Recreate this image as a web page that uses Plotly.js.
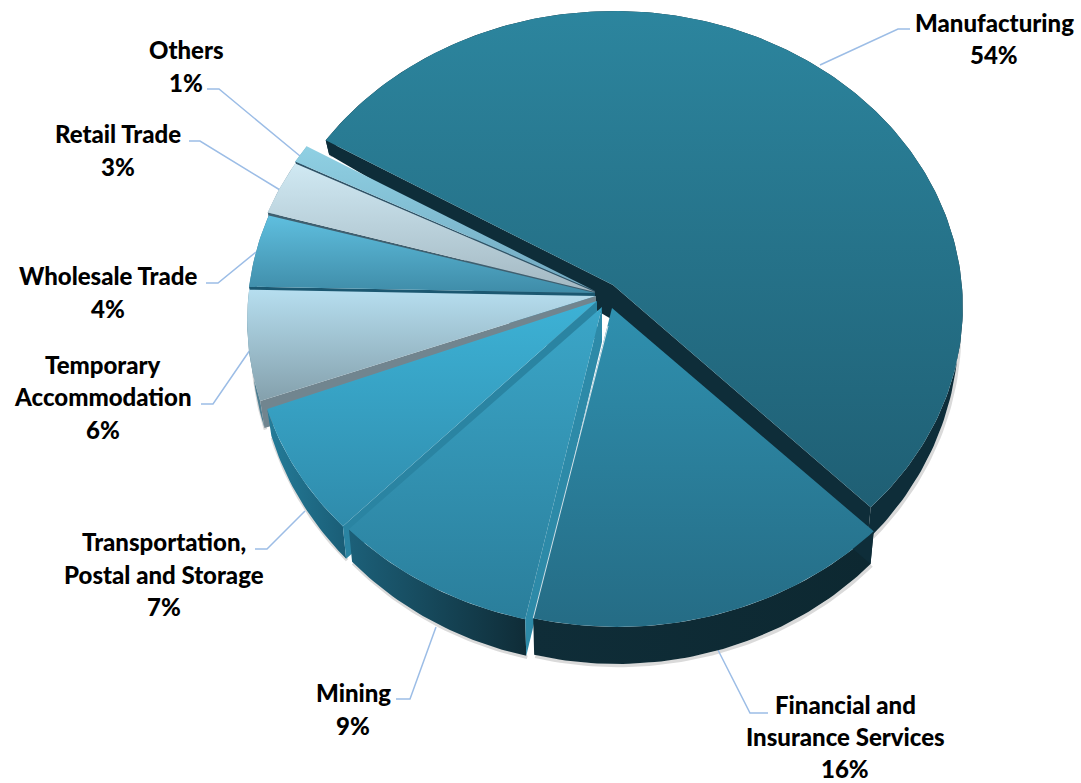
<!DOCTYPE html>
<html>
<head>
<meta charset="utf-8">
<script src="https://cdn.plot.ly/plotly-3.0.1.min.js"></script>
<style>html,body{margin:0;padding:0;background:#fff}#chart{width:1081px;height:783px}</style>
</head>
<body>
<div id="chart"></div>
<script>
// Share of output by industry, clockwise from Manufacturing
const categories = ['Manufacturing', 'Financial and Insurance Services', 'Mining',
  'Transportation, Postal and Storage', 'Temporary Accommodation',
  'Wholesale Trade', 'Retail Trade', 'Others'];
const shares = [54, 16, 9, 7, 6, 4, 3, 1];
const labelLines = [['Manufacturing'], ['Financial and', 'Insurance Services'], ['Mining'],
  ['Transportation,', 'Postal and Storage'], ['Temporary', 'Accommodation'],
  ['Wholesale Trade'], ['Retail Trade'], ['Others']];

// Top-face gradient (lower colour, upper colour) for each slice
const topColors = [['#1f5f74', '#2c859e'], ['#256c85', '#2f90af'], ['#2a7e9b', '#3ba6c8'],
  ['#2f8bab', '#3db2d6'], ['#84a0ac', '#b6deef'], ['#3f8ca8', '#5fbfdf'],
  ['#a3b8c2', '#d0e9f3'], ['#72a9c1', '#8fd0e3']];
// Side wall colours: outer rim (left, right) and the exposed cut face
const wallColors = [['#0e2d39', '#0e2d39'], ['#0f2d38', '#0d2831'], ['#1c6079', '#0f2c37'],
  ['#247c99', '#1a5d76'], ['#4f7f92', '#4f7f92'], ['#3d7a94', '#3d7a94'],
  ['#7b98a6', '#7b98a6'], ['#6aa7bf', '#6aa7bf']];
const faceColors = ['#0e2d39', '#0e2d39', '#2d8aa8', '#2a84a2', '#71858f', '#1b5871', '#3f5f6f', '#2f5266'];

// Perspective ellipse the rim is projected on
const centre = {x: 613, y: 285};
const radiusX = 348, radiusY = 294.6, perspective = 0.0675;
const startAngle = -59;
// Exploded position of each slice: rim shift and tip location
const rimShift = [[1, 2], [4, 26], [-4, 27], [-10, 24], [-17, 16], [-17, 13], [-18, 10], [-18, 8]];
const tips = [[613, 285], [612, 308], [602, 307], [597, 301], [596, 296], [595, 293], [595, 292], [595, 291]];
const tipDepth = 35;

// Label anchors, one y per text line, and leader-line routes
const labelX = [994, 845, 353, 164, 103, 108, 118, 186];
const labelY = [[22, 54], [704, 736, 768], [692, 725], [541, 574, 606], [364, 396, 429], [275, 308], [133, 166], [49, 82]];
const leaderX = [[820, 898, 910], [718, 750, 768], [436, 410, 396], [305, 267, 255], [250, 213, 201], [256, 218, 206], [280, 200, 189], [300, 219, 207]];
const leaderY = [[65, 29, 29], [650, 713, 713], [627, 699, 699], [511, 549, 549], [350, 404, 404], [252, 283, 283], [190, 141, 141], [156, 89, 89]];

function rimPoint(deg, shift) {
  const t = deg * Math.PI / 180;
  const u = Math.sin(t), v = -Math.cos(t);
  const s = 1 / (1 - perspective * v);
  return {x: centre.x + radiusX * u * s + shift[0], y: centre.y + radiusY * v * s + shift[1], v: v};
}
function lowered(p) {
  return {x: centre.x + (p.x - centre.x) * 0.988, y: p.y + 22 + 15 * p.v};
}
function polygon(points, gradient, orientation) {
  return {
    type: 'scatter', mode: 'lines', hoverinfo: 'skip', showlegend: false,
    x: points.map(p => p.x), y: points.map(p => p.y),
    fill: 'toself', line: {width: 0, color: gradient[0]}, fillcolor: gradient[0],
    fillgradient: {type: orientation, colorscale: [[0, gradient[0]], [1, gradient[1]]]}
  };
}

// Cumulative angle range of each slice
const ranges = [];
let running = startAngle;
shares.forEach(share => {
  const sweep = share * 3.6;
  ranges.push([running, running + sweep]);
  running += sweep;
});

function sliceRim(i) {
  const pts = [];
  const [a, b] = ranges[i];
  const n = Math.ceil(b - a);
  for (let k = 0; k <= n; k++) pts.push(rimPoint(a + (b - a) * k / n, rimShift[i]));
  return pts;
}

const traces = [];
const shadowTraces = [];
const drawOrder = [0, 7, 6, 5, 4, 3, 2, 1];
drawOrder.forEach(i => {
  const rim = sliceRim(i);
  const tip = {x: tips[i][0], y: tips[i][1]};
  const tipLow = {x: tip.x, y: tip.y + tipDepth};
  const lowRim = rim.map(lowered);

  // Soft edge under the outer wall
  shadowTraces.push({
    type: 'scatter', mode: 'lines', hoverinfo: 'skip', showlegend: false,
    x: lowRim.map(p => p.x + 1), y: lowRim.map(p => p.y + 1.5),
    line: {width: 3.5, color: 'rgba(70,70,70,0.2)'}
  });

  // Outer wall
  traces.push(polygon(rim.concat(lowRim.slice().reverse()), wallColors[i], 'horizontal'));
  // Cut face along the slice's leading radius
  const f = faceColors[i];
  traces.push(polygon([tip, rim[0], lowRim[0], tipLow], [f, f], 'none'));
  if (i === 0) {
    const last = rim.length - 1;
    traces.push(polygon([tip, rim[last], lowRim[last], tipLow], [f, f], 'none'));
  }
  // Top face
  traces.push(polygon([tip].concat(rim), topColors[i], 'vertical'));
});

// Light seam along the Financial slice's left edge
const seamEnd = rimPoint(ranges[1][1], rimShift[1]);
traces.push({
  type: 'scatter', mode: 'lines', hoverinfo: 'skip', showlegend: false,
  x: [tips[1][0] - 4, seamEnd.x], y: [tips[1][1] + 18, seamEnd.y],
  line: {width: 1, color: 'rgba(225,235,240,0.9)'}
});

// Leader lines from each slice to its label
const leaders = categories.map((c, i) => ({
  type: 'scatter', mode: 'lines', hoverinfo: 'skip', showlegend: false,
  x: leaderX[i], y: leaderY[i],
  line: {width: 1.5, color: '#9cbde6'}
}));

// Two or three centred lines per label, the last one being the share
const annotations = [];
categories.forEach((c, i) => {
  labelLines[i].concat([shares[i] + '%']).forEach((text, j) => {
    annotations.push({
      xref: 'x', yref: 'y', x: labelX[i], y: labelY[i][j], text: text,
      showarrow: false, xanchor: 'center', yanchor: 'middle',
      font: {family: 'Lato, sans-serif', size: 24, color: '#000', weight: 900}
    });
  });
});

const layout = {
  width: 1081, height: 783,
  margin: {l: 0, r: 0, t: 0, b: 0},
  paper_bgcolor: '#fff', plot_bgcolor: '#fff',
  showlegend: false,
  xaxis: {range: [0, 1081], visible: false, fixedrange: true},
  yaxis: {range: [783, 0], visible: false, fixedrange: true},
  annotations: annotations
};

Plotly.newPlot('chart', shadowTraces.concat(leaders, traces), layout, {displayModeBar: false, staticPlot: true});
</script>
</body>
</html>
